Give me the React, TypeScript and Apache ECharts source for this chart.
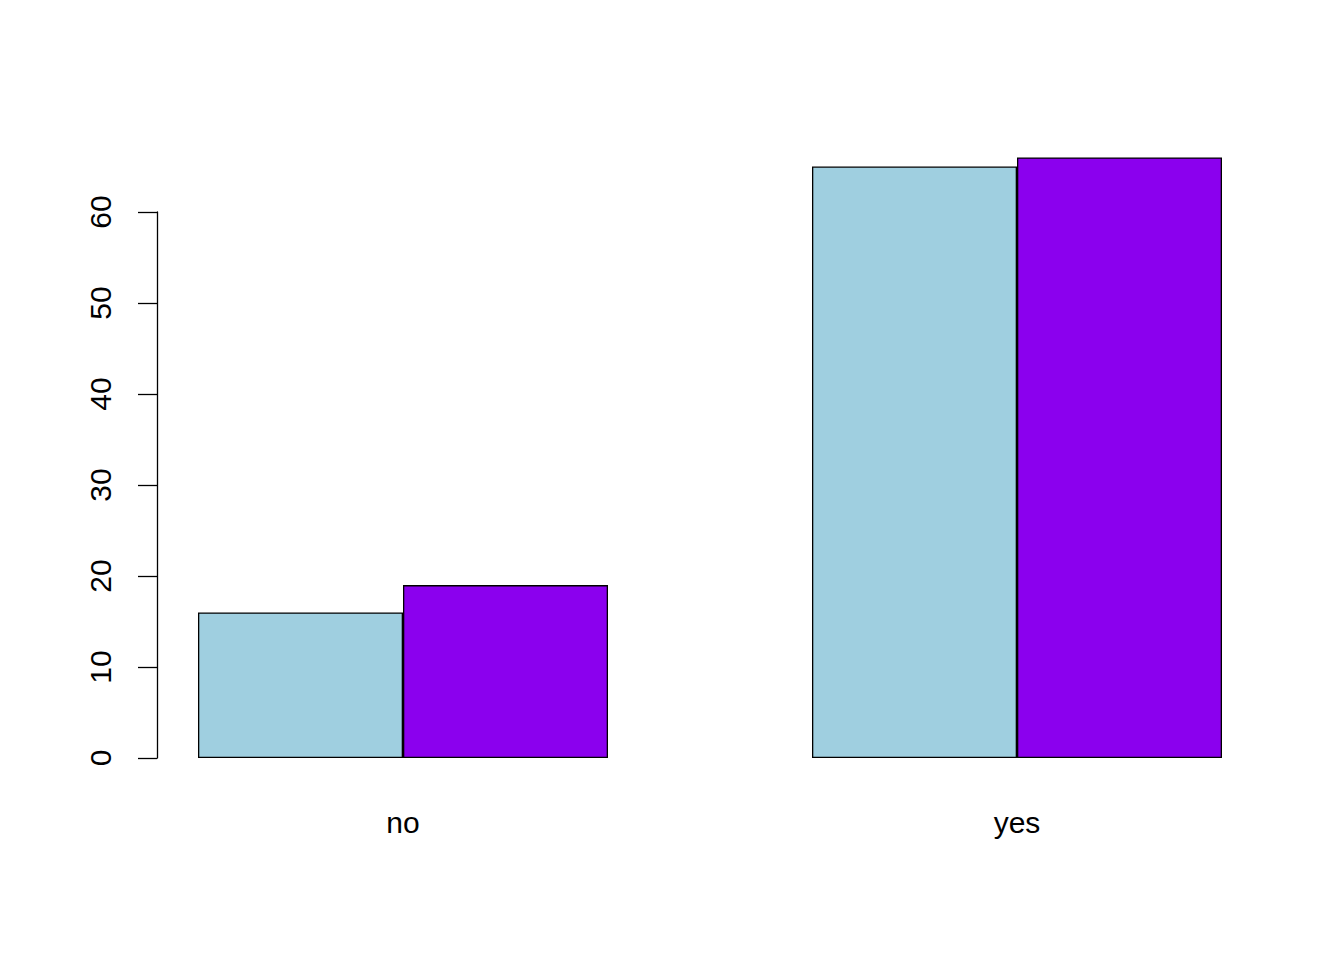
import React, { useEffect, useRef } from "react";
import * as echarts from "echarts";

const categories = ["no", "yes"];
const seriesA = [16, 65];
const seriesB = [19, 66];
const yTicks = [0, 10, 20, 30, 40, 50, 60];

export default function App() {
  const ref = useRef<HTMLDivElement>(null);
  useEffect(() => {
    if (!ref.current) return;
    const chart = echarts.init(ref.current, null, { renderer: "svg" });
    const font = "Liberation Sans, Arial, sans-serif";
    chart.setOption({
      animation: false,
      backgroundColor: "#ffffff",
      grid: [
        { left: 96, right: 20, top: 212, bottom: 202 },
        { left: 157, right: 20, top: 212, bottom: 202 },
      ],
      xAxis: [
        {
          type: "category",
          gridIndex: 0,
          data: categories,
          axisLine: { show: false },
          axisTick: { show: false },
          splitLine: { show: false },
          axisLabel: { color: "#000", fontSize: 30, fontFamily: font, margin: 49 },
        },
        { type: "value", gridIndex: 1, show: false, min: 0, max: 1 },
      ],
      yAxis: [
        { type: "value", gridIndex: 0, min: 0, max: 60, show: false },
        {
          type: "value",
          gridIndex: 1,
          min: yTicks[0],
          max: yTicks[yTicks.length - 1],
          interval: 10,
          axisLine: { show: true, lineStyle: { color: "#000", width: 1.3 } },
          axisTick: { show: true, length: 19, lineStyle: { color: "#000", width: 1.3 } },
          splitLine: { show: false },
          axisLabel: { color: "#000", fontSize: 30, fontFamily: font, rotate: 90, margin: 42 },
        },
      ],
      series: [
        {
          type: "bar",
          xAxisIndex: 0,
          yAxisIndex: 0,
          data: seriesA,
          barWidth: 205,
          barGap: "0%",
          clip: false,
          itemStyle: { color: "#9FCFE0", borderColor: "#000", borderWidth: 1.3 },
        },
        {
          type: "bar",
          xAxisIndex: 0,
          yAxisIndex: 0,
          data: seriesB,
          barWidth: 205,
          barGap: "0%",
          clip: false,
          itemStyle: { color: "#8B00EE", borderColor: "#000", borderWidth: 1.3 },
        },
      ],
    });
    return () => chart.dispose();
  }, []);
  return <div ref={ref} style={{ width: 1344, height: 960, position: "absolute", left: 0, top: 0 }} />;
}
